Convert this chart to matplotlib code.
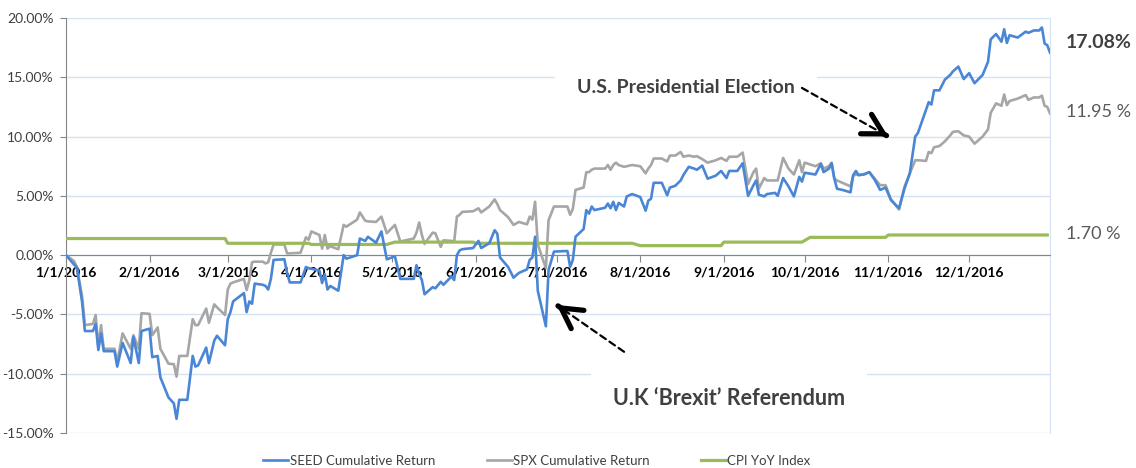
import pandas as pd
import matplotlib
matplotlib.use("Agg")
import matplotlib.pyplot as plt
import matplotlib.dates as mdates
from matplotlib.ticker import FuncFormatter

plt.rcParams['font.family'] = ['Lato', 'DejaVu Sans']

# --- data (% values) ---
dates = [
    "01-01", "01-04", "01-05", "01-07", "01-08", "01-11", "01-12", "01-13", "01-14", "01-15",
    "01-19", "01-20", "01-22", "01-25", "01-26", "01-28", "01-29", "02-01", "02-02", "02-04",
    "02-05", "02-08", "02-10", "02-11", "02-12", "02-15", "02-17", "02-18", "02-19", "02-22",
    "02-23", "02-25", "02-26", "02-29", "03-01", "03-02", "03-03", "03-07", "03-08", "03-09",
    "03-10", "03-11", "03-14", "03-15", "03-16", "03-17", "03-18", "03-22", "03-23", "03-24",
    "03-28", "03-30", "03-31", "04-01", "04-04", "04-05", "04-06", "04-07", "04-08", "04-11",
    "04-13", "04-14", "04-18", "04-19", "04-21", "04-22", "04-25", "04-27", "04-29", "05-02",
    "05-04", "05-09", "05-10", "05-11", "05-12", "05-13", "05-16", "05-17", "05-19", "05-20",
    "05-23", "05-24", "05-25", "05-26", "05-27", "05-31", "06-02", "06-03", "06-06", "06-08",
    "06-09", "06-10", "06-13", "06-15", "06-17", "06-20", "06-21", "06-22", "06-23", "06-24",
    "06-27", "06-28", "06-30", "07-05", "07-06", "07-07", "07-08", "07-11", "07-12", "07-13",
    "07-14", "07-15", "07-19", "07-20", "07-21", "07-22", "07-23", "07-24", "07-26", "07-27",
    "07-29", "08-01", "08-03", "08-04", "08-05", "08-06", "08-09", "08-11", "08-12", "08-14",
    "08-16", "08-17", "08-19", "08-21", "08-22", "08-24", "08-26", "08-29", "08-31", "09-02",
    "09-03", "09-06", "09-08", "09-10", "09-12", "09-13", "09-14", "09-16", "09-17", "09-20",
    "09-21", "09-23", "09-25", "09-27", "09-29", "09-30", "10-01", "10-05", "10-07", "10-08",
    "10-10", "10-11", "10-12", "10-13", "10-15", "10-18", "10-19", "10-20", "10-21", "10-23",
    "10-25", "10-27", "10-29", "10-31", "11-02", "11-05", "11-07", "11-09", "11-11", "11-12",
    "11-15", "11-16", "11-17", "11-18", "11-20", "11-22", "11-24", "11-25", "11-27", "11-29",
    "12-01", "12-03", "12-06", "12-08", "12-09", "12-11", "12-13", "12-14", "12-15", "12-16",
    "12-19", "12-22", "12-23", "12-25", "12-27", "12-28", "12-29", "12-30", "12-31",
]

seed_vals = [
    0, -0.8, -1.0, -4.0, -6.4, -6.4, -5.8, -8.0, -6.6, -8.1,
    -8.1, -9.4, -7.4, -9.1, -6.9, -9.1, -6.4, -6.2, -8.6, -8.5,
    -10.3, -12.0, -12.5, -13.8, -12.2, -12.2, -8.5, -9.4, -9.3, -7.8,
    -9.1, -7.2, -6.8, -7.6, -5.4, -4.8, -3.9, -3.2, -4.8, -3.9,
    -4.1, -2.4, -2.5, -2.6, -2.9, -2.0, -0.4, -0.35, -1.5, -2.3,
    -2.3, -1.0, -1.1, -1.15, -1.3, -2.35, -1.6, -2.9, -2.6, -3.0,
    0.0, -0.3, 0.0, 1.4, 1.2, 1.55, 1.05, 2.0, -0.35, -0.1,
    -2.0, -2.0, -0.85, -1.6, -2.1, -3.3, -2.7, -2.8, -2.25, -2.5,
    -1.8, -2.1, 0.0, 0.4, 0.5, 0.6, 1.2, 0.6, 1.0, 2.1,
    1.8, -0.2, -1.0, -1.9, -1.5, -1.2, -0.4, -0.2, 1.55, -3.0,
    -6.0, -1.25, 0.3, 0.35, -1.0, -0.4, 1.55, 2.2, 3.8, 3.5,
    4.1, 3.8, 4.0, 4.35, 3.95, 4.5, 3.8, 4.4, 4.1, 4.95,
    5.15, 4.9, 3.75, 4.6, 4.75, 6.1, 6.1, 5.05, 5.7, 5.85,
    6.3, 6.75, 7.45, 7.3, 7.2, 7.55, 6.45, 6.7, 7.1, 6.5,
    7.1, 7.1, 7.75, 5.0, 5.9, 6.3, 5.1, 4.95, 5.15, 5.25,
    5.0, 6.5, 5.8, 4.95, 6.6, 6.2, 6.95, 6.8, 7.7, 7.0,
    7.3, 7.75, 6.45, 5.6, 5.5, 5.3, 6.75, 7.1, 6.75, 6.8,
    7.0, 6.35, 5.5, 5.7, 4.65, 3.95, 5.6, 6.9, 10.0, 10.3,
    12.25, 12.9, 12.7, 13.9, 13.9, 14.8, 15.2, 15.5, 15.9, 14.85,
    15.35, 14.5, 15.2, 16.3, 18.2, 18.65, 18.0, 19.05, 17.9, 18.55,
    18.35, 18.85, 18.75, 18.95, 18.95, 19.2, 17.85, 17.7, 17.08,
]

spx_vals = [
    0, -0.5, -1.0, -3.5, -5.9, -5.8, -5.05, -7.8, -5.9, -7.9,
    -7.9, -9.0, -6.6, -7.9, -6.75, -7.9, -4.9, -4.95, -6.75, -6.1,
    -7.9, -9.15, -9.2, -10.25, -8.5, -8.5, -5.4, -5.9, -5.9, -4.5,
    -5.7, -4.15, -4.4, -5.05, -2.9, -2.4, -2.3, -2.0, -2.95, -2.1,
    -0.6, -0.55, -0.55, -0.7, -0.6, 0.2, 0.9, 0.9, 0.15, 0.15,
    0.2, 1.5, 1.3, 2.0, 1.7, 0.55, 1.7, 0.55, 0.75, 0.5,
    2.55, 2.4, 3.0, 3.6, 2.9, 2.85, 2.8, 3.25, 1.85, 2.55,
    1.15, 1.4, 1.9, 2.75, 1.7, 0.95, 1.9, 1.85, 0.7, 1.25,
    1.2, 1.15, 3.25, 3.4, 3.65, 3.7, 3.95, 3.6, 4.1, 4.7,
    4.3, 3.8, 3.2, 2.55, 2.8, 2.6, 3.25, 3.0, 4.5, 0.9,
    -1.1, 2.95, 4.1, 4.1, 3.4, 3.9, 5.5, 5.7, 7.0, 7.0,
    7.2, 7.3, 7.3, 7.6, 7.2, 7.6, 7.8, 7.6, 7.45, 7.5,
    7.6, 7.5, 6.9, 7.3, 7.6, 8.15, 8.15, 7.9, 8.4, 8.4,
    8.7, 8.3, 8.4, 8.3, 8.35, 8.1, 7.8, 8.0, 8.2, 7.95,
    8.3, 8.3, 8.65, 6.0, 7.0, 7.3, 5.6, 6.5, 6.3, 6.3,
    6.3, 8.2, 7.3, 6.8, 8.0, 7.0, 7.8, 7.5, 7.75, 7.3,
    7.5, 7.8, 6.45, 6.3, 6.1, 5.8, 6.7, 6.8, 6.75, 6.85,
    7.0, 6.45, 5.9, 5.9, 4.7, 3.85, 5.75, 6.9, 8.0, 8.0,
    7.95, 8.7, 8.6, 9.1, 9.2, 9.6, 10.1, 10.4, 10.45, 10.1,
    10.0, 9.4, 10.0, 10.6, 12.0, 12.8, 12.6, 13.55, 12.65, 13.0,
    13.2, 13.5, 13.1, 13.3, 13.3, 13.45, 12.6, 12.5, 11.95,
]

# CPI YoY as shown for each month (Jan..Dec)
cpi_months = [1.4, 1.4, 1.0, 0.9, 1.1, 1.0, 1.0, 0.8, 1.1, 1.5, 1.7, 1.7]

x = pd.to_datetime(["2016-" + d for d in dates])
cpi_x = pd.bdate_range("2016-01-01", "2016-12-31")
cpi_y = [cpi_months[d.month - 1] for d in cpi_x]

BLUE = "#4a86d6"
GRAY = "#a6a6a6"
GREEN = "#9bbb59"
GRID = "#d5e2f2"
TXT = "#404040"

fig = plt.figure(figsize=(11.36, 4.68), dpi=100)
ax = fig.add_axes([66 / 1136, 1 - 433 / 468, (1050 - 66) / 1136, (433 - 18) / 468])

ax.plot(x, seed_vals, color=BLUE, lw=1.9, zorder=4, label="SEED Cumulative Return")
ax.plot(x, spx_vals, color=GRAY, lw=1.9, zorder=3, label="SPX Cumulative Return")
ax.plot(cpi_x, cpi_y, color=GREEN, lw=2.3, zorder=3, label="CPI YoY Index")

ax.set_ylim(-15, 20)
ax.set_yticks(range(-15, 21, 5))
ax.yaxis.set_major_formatter(FuncFormatter(lambda v, p: f"{v:.2f}%"))
ax.set_xlim(pd.Timestamp("2016-01-01"), pd.Timestamp("2016-12-31"))
ax.xaxis.set_major_locator(mdates.MonthLocator())
ax.xaxis.set_major_formatter(FuncFormatter(
    lambda v, p: f"{mdates.num2date(v).month}/1/2016"))

ax.grid(axis="y", color=GRID, lw=1.0, zorder=0)
ax.set_axisbelow(True)
ax.spines["bottom"].set_position(("data", 0))
ax.spines["bottom"].set_color("#868686")
ax.spines["left"].set_color("#868686")
ax.spines["top"].set_visible(False)
ax.spines["right"].set_color(GRID)
ax.tick_params(axis="y", colors="#868686", labelcolor=TXT, labelsize=10, length=4, pad=5)
ax.tick_params(axis="x", colors="#868686", labelcolor="black", length=5, pad=3)
for lab in ax.get_xticklabels():
    lab.set_fontweight("bold")
    lab.set_fontsize(10)

# annotations
def arrow(tip, start):
    tip = (pd.Timestamp(tip[0]), tip[1])
    start = (pd.Timestamp(start[0]), start[1])
    ax.annotate("", xy=tip, xytext=start,
                arrowprops=dict(arrowstyle="-", lw=1.6, ls=(0, (3, 2)), color="black",
                                shrinkA=0, shrinkB=6), zorder=6)
    near = (tip[0] + (start[0] - tip[0]) * 0.02, tip[1] + (start[1] - tip[1]) * 0.02)
    ax.annotate("", xy=tip, xytext=near,
                arrowprops=dict(arrowstyle="->,head_length=0.72,head_width=0.4",
                                mutation_scale=20, lw=3.8, color="black",
                                shrinkA=0, shrinkB=0), zorder=6)

ax.text(pd.Timestamp("2016-08-18"), 14.1, "U.S. Presidential Election", ha="center", va="center",
        fontsize=14, fontweight="bold", color=TXT, zorder=5,
        bbox=dict(facecolor="white", edgecolor="none", pad=16))
arrow(("2016-11-01", 10.0), ("2016-09-30", 14.1))

ax.text(pd.Timestamp("2016-09-03"), -12.05, "U.K \u2018Brexit\u2019 Referendum", ha="center", va="center",
        fontsize=15.5, fontweight="bold", color=TXT, zorder=5,
        bbox=dict(facecolor="white", edgecolor="none", pad=16))
arrow(("2016-07-01", -4.2), ("2016-07-26", -8.15))

# end-value labels on the right
ax.annotate(f"{seed_vals[-1]:.2f}%", xy=(1, seed_vals[-1]), xycoords=("axes fraction", "data"),
            xytext=(11.5, 7), textcoords="offset points", va="center", ha="left",
            fontsize=14, fontweight="bold", color=TXT, annotation_clip=False)
ax.annotate(f"{spx_vals[-1]:.2f} %", xy=(1, spx_vals[-1]), xycoords=("axes fraction", "data"),
            xytext=(11.5, 1), textcoords="offset points", va="center", ha="left",
            fontsize=13, color="#595959", annotation_clip=False)
ax.annotate(f"{cpi_months[-1]:.2f} %", xy=(1, cpi_months[-1]), xycoords=("axes fraction", "data"),
            xytext=(11.5, 1), textcoords="offset points", va="center", ha="left",
            fontsize=13, color="#595959", annotation_clip=False)

leg = fig.legend(loc="center", bbox_to_anchor=(537 / 1136, 1 - 461 / 468), ncol=3, frameon=False,
                 fontsize=9.5, columnspacing=3.9, handlelength=1.9, handletextpad=0.1)
for t in leg.get_texts():
    t.set_color(TXT)

fig.savefig("out.png", dpi=100)
